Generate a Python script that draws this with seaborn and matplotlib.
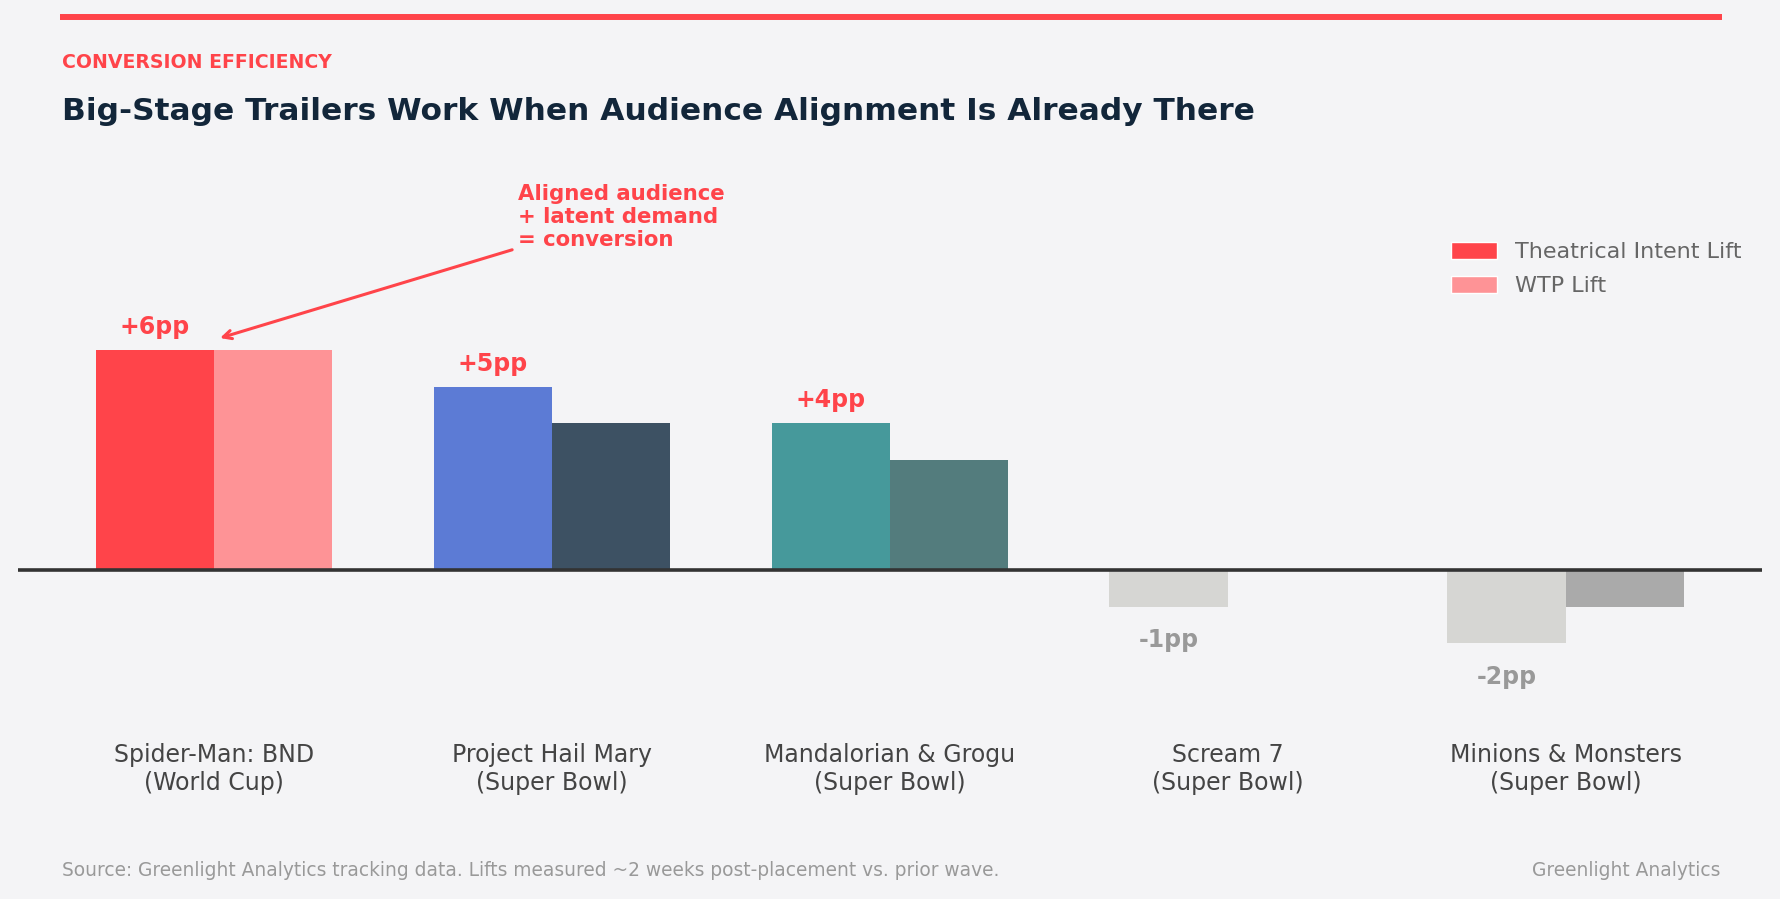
import matplotlib.pyplot as plt
import matplotlib.lines as mlines
import seaborn as sns
import pandas as pd

sns.set_theme(style="white")
plt.rcParams['font.family'] = ['DejaVu Sans']

peliculas = ['Spider-Man: BND\n(World Cup)', 'Project Hail Mary\n(Super Bowl)',
             'Mandalorian & Grogu\n(Super Bowl)', 'Scream 7\n(Super Bowl)',
             'Minions & Monsters\n(Super Bowl)']
intencion = [6, 5, 4, -1, -2]  # Theatrical Intent Lift (pp)
wtp = [6, 4, 3, 0, -1]  # WTP Lift (pp)
series = ['Theatrical Intent Lift', 'WTP Lift']

colores_intencion = ['#FF444A', '#5C7BD5', '#46999B', '#D6D6D3', '#D6D6D3']
colores_wtp = ['#FE9396', '#3D5163', '#537C7D', '#D6D6D3', '#AAAAAA']

fondo = '#F4F4F6'
rojo = '#FF444A'

datos = pd.DataFrame({
    'Pelicula': peliculas * 2,
    'Serie': [series[0]] * len(peliculas) + [series[1]] * len(peliculas),
    'Lift': intencion + wtp,
})

fig = plt.figure(figsize=(17.81, 8.99), dpi=100, facecolor=fondo)
ax = fig.add_axes([0.0101, 0.223, 0.979, 0.592])
ax.set_facecolor(fondo)

sns.barplot(
    data=datos, x='Pelicula', y='Lift', hue='Serie',
    palette=[rojo, '#FE9396'], width=0.7, saturation=1, ax=ax,
)

# colores por pelicula
for barra, c in zip(ax.containers[0], colores_intencion):
    barra.set_facecolor(c)
    barra.set_edgecolor('none')
for barra, c in zip(ax.containers[1], colores_wtp):
    barra.set_facecolor(c)
    barra.set_edgecolor('none')

# etiquetas de valor sobre la barra de intencion
for i, v in enumerate(intencion):
    x = ax.containers[0][i].get_x() + ax.containers[0][i].get_width() / 2
    if v > 0:
        ax.text(x, v + 0.3, f'+{v}pp', ha='center', va='bottom',
                fontsize=17, fontweight='bold', color=rojo)
    else:
        ax.text(x, v - 0.58, f'{v}pp', ha='center', va='top',
                fontsize=17, fontweight='bold', color='#999999')

ax.axhline(0, color='#333333', lw=2.6, zorder=5)
ax.set_xlim(-0.58, 4.58)
ax.set_ylim(-3.5, 11)
ax.set_xlabel('')
ax.set_ylabel('')
ax.set_yticks([])
ax.tick_params(axis='x', length=0, pad=32, labelsize=17, labelcolor='#444444')
sns.despine(ax=ax, left=True, bottom=True)

ax.annotate('Aligned audience\n+ latent demand\n= conversion',
            xy=(0.01, 6.3), xytext=(0.9, 8.72), ha='left', va='bottom',
            fontsize=15.3, fontweight='bold', color=rojo, linespacing=1.2,
            arrowprops=dict(arrowstyle='->', color=rojo, lw=2.2, mutation_scale=15))

ax.legend(loc='upper right', bbox_to_anchor=(1.0, 0.895), frameon=False,
          fontsize=16, labelcolor='#666666', handlelength=2.1, handleheight=0.8,
          labelspacing=0.62)

# textos de cabecera y pie
fig.add_artist(mlines.Line2D([0.0337, 0.9669], [0.981, 0.981], color=rojo, lw=4.3,
                             solid_capstyle='butt', transform=fig.transFigure))
fig.text(0.0348, 0.924, 'CONVERSION EFFICIENCY', fontsize=13.6, fontweight='bold',
         color=rojo, va='baseline')
fig.text(0.0348, 0.8665, 'Big-Stage Trailers Work When Audience Alignment Is Already There',
         fontsize=22.5, fontweight='bold', color='#12263A', va='baseline')
fig.text(0.0348, 0.026, 'Source: Greenlight Analytics tracking data. Lifts measured ~2 weeks '
         'post-placement vs. prior wave.', fontsize=13.4, color='#999999', va='baseline')
fig.text(0.9657, 0.026, 'Greenlight Analytics', fontsize=13.4, color='#999999',
         ha='right', va='baseline')

fig.savefig('out.png', dpi=100, facecolor=fondo)
